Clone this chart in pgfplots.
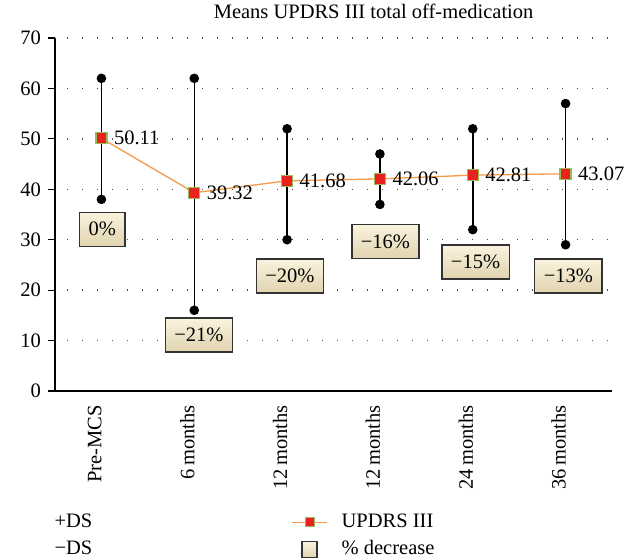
\documentclass[border=0pt]{standalone}
\usepackage{pgfplots}
\pgfplotsset{compat=1.18}
\usepackage{fontspec}
\setmainfont{Liberation Serif}
\definecolor{lineorange}{HTML}{F4994A}
\definecolor{mkred}{HTML}{E8231F}
\definecolor{mkgreen}{HTML}{9BBB59}
\definecolor{boxtop}{HTML}{FAF3DE}
\definecolor{boxbot}{HTML}{E0D3AF}
\begin{document}
\fontsize{20.5bp}{24bp}\selectfont
\begin{tikzpicture}
\path[use as bounding box] (-55bp,-169bp) rectangle (578bp,391bp);
\begin{axis}[
  at={(0,0)}, anchor=south west,
  scale only axis, width=557bp, height=353bp,
  xmin=-0.5, xmax=5.5, ymin=0, ymax=70,
  axis x line*=bottom, axis y line*=left,
  axis line style={black, line width=1.2bp, -},
  /pgf/number format/assume math mode=true,
  ytick={0,10,...,70},
  xtick={0,...,5},
  xticklabels={Pre-MCS, 6\,months, 12\,months, 12\,months, 24\,months, 36\,months},
  xtick style={draw=none},
  minor xtick={-0.5,0.5,...,5.5},
  tick align=outside,
  major tick length=7bp, minor tick length=7bp,
  every tick/.style={black, line width=1.2bp},
  minor tick style={black, line width=1.2bp},
  xticklabel style={rotate=90, anchor=base east, inner sep=0pt},
  xticklabel shift=7bp,
  ymajorgrids,
  major grid style={dash pattern=on 1.3bp off 13.7bp, dash phase=3bp, black!70, line width=1.3bp},
  title={Means UPDRS III total off-medication},
  title style={at={(0.572,1.058)}, anchor=center, inner sep=0pt},
  clip=false,
  legend columns=2,
  legend cell align=left,
  legend style={draw=none, fill=none, at={(-0.01,-0.335)}, anchor=north west,
    nodes={inner sep=2bp, text height=14bp, text depth=4bp},
    /tikz/row sep=5bp,
    /tikz/column 2/.style={column sep=197bp},
    /tikz/column 3/.style={column sep=12bp}},
]
% error bars (-DS / +DS)
\addplot[black, line width=1.5bp, mark=*, mark size=4bp, unbounded coords=jump, forget plot] table {
x y
0 38
0 62
nan nan
1 16
1 62
nan nan
2 30
2 52
nan nan
3 37
3 47
nan nan
4 32
4 52
nan nan
5 29
5 57
};
% percent decrease boxes
\addplot[only marks, mark=none, forget plot, nodes near coords, point meta=explicit symbolic,
  nodes near coords align={anchor=center},
  every node near coord/.append style={draw=black!80, line width=1.2bp, top color=boxtop, bottom color=boxbot, minimum height=34bp, inner xsep=9bp, inner ysep=0pt, text=black}]
  table[meta=label] {
x y label
0.01 32.1 0\%
1.05 11.1 −21\%
2.03 22.8 −20\%
3.06 29.6 −16\%
4.03 25.6 −15\%
5.03 22.8 −13\%
};
% UPDRS III means
\addplot[lineorange, line width=1.3bp, mark=square*, mark size=5.5bp,
  mark options={fill=mkred, draw=mkgreen, line width=1.2bp}, forget plot,
  nodes near coords, point meta=explicit symbolic,
  nodes near coords align={anchor=west},
  every node near coord/.append style={text=black, inner sep=0pt, xshift=12bp}]
  table[meta=label] {
x y label
0 50.11 50.11
1 39.32 39.32
2 41.68 41.68
3 42.06 42.06
4 42.81 42.81
5 43.07 43.07
};
\addlegendimage{empty legend}
\addlegendentry{+DS}
\addlegendimage{legend image code/.code={
    \draw[lineorange, line width=1.3bp] (0bp,0bp) -- (35bp,0bp);
    \draw[fill=mkred, draw=mkgreen, line width=1bp] (13bp,-4.5bp) rectangle (22bp,4.5bp);}}
\addlegendentry{UPDRS III}
\addlegendimage{empty legend}
\addlegendentry{−DS}
\addlegendimage{legend image code/.code={\draw[draw=black!80, line width=1.2bp, top color=boxtop, bottom color=boxbot] (10bp,-8bp) rectangle (25bp,8bp);}}
\addlegendentry{\% decrease}
\end{axis}
\end{tikzpicture}
\end{document}
